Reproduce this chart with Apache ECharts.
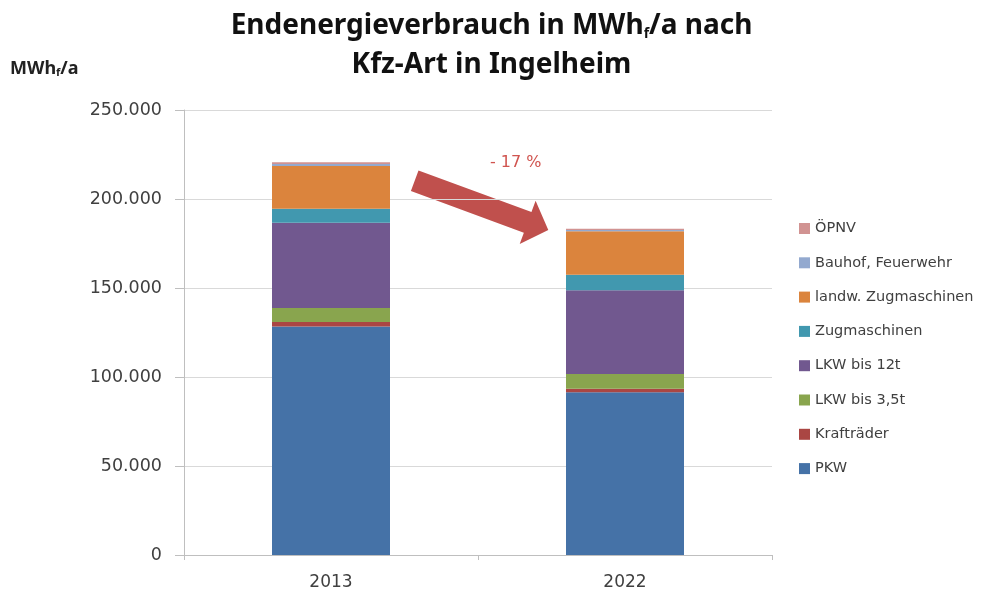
<!DOCTYPE html>
<html>
<head>
<meta charset="utf-8">
<title>Endenergieverbrauch Ingelheim</title>
<script src="https://cdn.jsdelivr.net/npm/echarts@6/dist/echarts.min.js"></script>
<style>
  html, body { margin: 0; padding: 0; background: #fff; }
  #main { width: 983px; height: 597px; }
</style>
</head>
<body>
<div id="main"></div>
<script>
// Daten (MWh_f/a)
var categories = ['2013', '2022'];
var pkw = [128400, 91500];
var kraftraeder = [2500, 1900];
var lkw35 = [7900, 8300];
var lkw12 = [47800, 47000];
var zugmaschinen = [7900, 8800];
var landwZug = [24000, 24400];
var bauhof = [1200, 700];
var oepnv = [1000, 700];
var yTicks = [0, 50000, 100000, 150000, 200000, 250000];

var seriesDefs = [
    {name: 'PKW', data: pkw, color: '#4572A7'},
    {name: 'Krafträder', data: kraftraeder, color: '#AA4643'},
    {name: 'LKW bis 3,5t', data: lkw35, color: '#89A54E'},
    {name: 'LKW bis 12t', data: lkw12, color: '#71588F'},
    {name: 'Zugmaschinen', data: zugmaschinen, color: '#4198AF'},
    {name: 'landw. Zugmaschinen', data: landwZug, color: '#DB843D'},
    {name: 'Bauhof, Feuerwehr', data: bauhof, color: '#93A9CF'},
    {name: 'ÖPNV', data: oepnv, color: '#D19392'}
];

function fmt(v) {
    // deutsches Tausendertrennzeichen
    return String(v).replace(/\B(?=(\d{3})+(?!\d))/g, '.');
}

// Pfeil als Polygon (Schaft + Spitze)
function arrowPoints(x0, y0, x1, y1, shaft, head, headLen) {
    var dx = x1 - x0, dy = y1 - y0;
    var len = Math.sqrt(dx * dx + dy * dy);
    var ux = dx / len, uy = dy / len;
    var nx = -uy, ny = ux;
    var bx = x1 - ux * headLen, by = y1 - uy * headLen;
    return [
        [x0 + nx * shaft, y0 + ny * shaft],
        [bx + nx * shaft, by + ny * shaft],
        [bx + nx * head, by + ny * head],
        [x1, y1],
        [bx - nx * head, by - ny * head],
        [bx - nx * shaft, by - ny * shaft],
        [x0 - nx * shaft, y0 - ny * shaft]
    ];
}

var chartDom = document.getElementById('main');
var myChart = echarts.init(chartDom);
var option;

option = {
    animation: false,
    backgroundColor: '#fff',
    title: {
        left: 'center',
        top: 2,
        text: '{b|Endenergieverbrauch in MWh}{s|f}{b|/a nach}\n{b|Kfz-Art in Ingelheim}',
        textStyle: {
            rich: {
                b: {fontFamily: 'Noto Sans', fontWeight: 'bold', fontSize: 28, color: '#111', lineHeight: 39},
                s: {fontFamily: 'Noto Sans', fontWeight: 'bold', fontSize: 14, color: '#111', lineHeight: 39, padding: [16, 0, 0, 0]}
            }
        }
    },
    legend: {
        orient: 'vertical',
        left: 799,
        top: 221,
        padding: 0,
        itemWidth: 11,
        itemHeight: 11,
        itemGap: 19.3,
        icon: 'rect',
        data: seriesDefs.map(function (s) { return s.name; }).reverse(),
        textStyle: {fontFamily: 'DejaVu Sans', fontSize: 14.5, color: '#404040', lineHeight: 14}
    },
    grid: {left: 184, right: 211, top: 110, bottom: 42, containLabel: false},
    xAxis: {
        type: 'category',
        data: categories,
        axisLine: {lineStyle: {color: '#bfbfbf'}},
        axisTick: {show: true, length: 5, lineStyle: {color: '#bfbfbf'}},
        axisLabel: {fontFamily: 'DejaVu Sans', fontSize: 17, color: '#404040', margin: 19}
    },
    yAxis: {
        type: 'value',
        min: yTicks[0],
        max: yTicks[yTicks.length - 1],
        interval: yTicks[1] - yTicks[0],
        axisLine: {show: true, lineStyle: {color: '#bfbfbf'}},
        axisTick: {show: true, length: 9, lineStyle: {color: '#bfbfbf'}},
        splitLine: {lineStyle: {color: '#d9d9d9'}},
        axisLabel: {fontFamily: 'DejaVu Sans', fontSize: 17.5, color: '#404040', margin: 22, formatter: fmt}
    },
    series: seriesDefs.map(function (s) {
        return {
            name: s.name,
            type: 'bar',
            stack: 'gesamt',
            barWidth: 118,
            data: s.data,
            itemStyle: {color: s.color}
        };
    }),
    graphic: [
        {
            type: 'text',
            left: 10,
            top: 60,
            style: {
                text: '{b|MWh}{s|f}{b|/a}',
                rich: {
                    b: {fontFamily: 'Noto Sans', fontWeight: 'bold', fontSize: 18, fill: '#222'},
                    s: {fontFamily: 'Noto Sans', fontWeight: 'bold', fontSize: 11, fill: '#222', padding: [8, 0, 0, 0]}
                }
            }
        },
        {
            type: 'polygon',
            shape: {points: arrowPoints(414.7, 180.8, 548.3, 230, 11, 23, 22)},
            style: {fill: '#C0504D'}
        },
        {
            type: 'text',
            left: 490,
            top: 155,
            style: {
                text: '- 17 %',
                fontFamily: 'DejaVu Sans',
                fontSize: 16,
                fill: '#D0544F'
            }
        }
    ]
};

option && myChart.setOption(option);
</script>
</body>
</html>
